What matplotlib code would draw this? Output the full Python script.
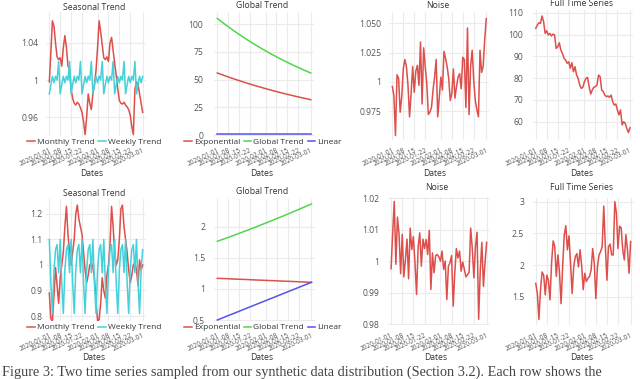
import matplotlib
matplotlib.use("Agg")
import matplotlib.pyplot as plt
import pandas as pd

plt.rcParams['font.family'] = ['Open Sans', 'DejaVu Sans']

# ---------------- data ----------------
start, end = '2020-01-01', '2020-03-01'
tick_dates = ['2020-01-01', '2020-01-08', '2020-01-15', '2020-01-22',
              '2020-02-01', '2020-02-08', '2020-02-15', '2020-02-22', '2020-03-01']

# Row 1
r1_monthly = [0.998, 1.030, 1.064, 1.058, 1.040, 1.025, 1.022, 1.024, 1.015, 1.035,
              1.048, 1.035, 1.015, 1.012, 0.990, 0.980, 0.975, 0.973, 0.976, 0.974,
              0.970, 0.965, 0.955, 0.941, 0.960, 0.985, 0.975, 0.968, 0.985, 0.995,
              1.010, 1.035, 1.064, 1.052, 1.038, 1.024, 1.022, 1.025, 1.020, 1.040,
              1.046, 1.032, 1.018, 1.005, 0.990, 0.978, 0.975, 0.974, 0.976, 0.973,
              0.971, 0.968, 0.962, 0.950, 0.941, 0.990, 0.998, 0.995, 0.985, 0.975,
              0.965]
r1_weekly = [0.985, 0.995, 1.004, 0.997, 1.004, 1.000, 1.020,
             0.985, 0.995, 1.004, 0.997, 1.004, 1.000, 1.020,
             0.985, 0.995, 1.004, 0.997, 1.004, 1.000, 1.020,
             0.985, 0.995, 1.004, 0.997, 1.004, 1.000, 1.020,
             0.985, 0.995, 1.004, 0.997, 1.004, 1.000, 1.020,
             0.985, 0.995, 1.004, 0.997, 1.004, 1.000, 1.020,
             0.985, 0.995, 1.004, 0.997, 1.004, 1.000, 1.020,
             0.985, 0.995, 1.004, 0.997, 1.004, 1.000, 1.020,
             0.985, 0.995, 1.004, 0.997, 1.004]
r1_exponential = [56.00, 53.45, 51.01, 48.69, 46.47, 44.36, 42.34, 40.41, 38.57,
                  36.81, 35.14, 33.54, 32.01]
r1_global = [105.0, 99.64, 94.56, 89.73, 85.15, 80.81, 76.68, 72.77, 69.06,
             65.53, 62.19, 59.01, 56.00]
r1_linear = [1.0, 1.0, 1.0, 1.0, 1.0, 1.0, 1.0, 1.0, 1.0, 1.0, 1.0, 1.0, 1.0]
r1_noise = [0.996, 0.988, 0.954, 1.006, 1.003, 0.974, 0.987, 1.011, 1.019, 1.013,
            0.997, 0.970, 0.990, 1.013, 0.991, 1.009, 1.014, 0.997, 1.034, 0.981,
            1.029, 1.013, 0.999, 0.972, 0.974, 0.978, 0.993, 1.004, 1.019, 0.970,
            0.987, 1.004, 0.993, 1.026, 1.020, 1.013, 1.003, 0.984, 0.990, 1.011,
            0.986, 0.996, 1.004, 1.007, 0.994, 1.021, 1.019, 0.978, 1.046, 0.972,
            1.013, 1.027, 1.001, 0.984, 0.976, 0.970, 1.027, 1.008, 1.013, 1.036,
            1.054]
r1_full = [102.8, 104.3, 105.4, 105.1, 108.5, 105.9, 100.5, 101.7, 99.8, 100.5,
           99.3, 100.2, 99.8, 93.6, 94.4, 96.2, 92.9, 91.3, 89.1, 88.3,
           86.8, 87.5, 84.5, 87.1, 82.9, 85.2, 81.4, 79.9, 76.8, 75.3,
           75.8, 78.3, 79.9, 80.3, 76.1, 72.7, 74.5, 75.8, 76.1, 76.8,
           81.4, 80.6, 74.5, 73.8, 72.2, 71.5, 71.8, 71.2, 72.2, 69.2,
           67.6, 68.1, 65.4, 63.1, 65.4, 58.5, 60.0, 59.2, 56.9, 55.0,
           57.2]

# Row 2
r2_monthly = [0.89, 0.79, 0.78, 0.88, 0.99, 0.92, 0.85, 0.95, 1.00, 1.05,
              1.15, 1.23, 1.12, 1.05, 1.00, 1.05, 1.10, 1.20, 1.235, 1.18,
              1.15, 1.12, 1.05, 0.98, 0.93, 0.96, 1.00, 1.01, 0.99, 0.95,
              0.86, 0.782, 0.785, 0.85, 0.95, 0.90, 0.87, 0.96, 1.00, 1.08,
              1.23, 1.15, 1.05, 1.00, 1.02, 1.10, 1.22, 1.235, 1.15, 1.10,
              1.05, 0.98, 0.93, 0.96, 1.00, 1.01, 0.98, 0.92, 1.02, 0.98,
              1.00]
r2_weekly = [1.10, 0.93, 0.81, 0.98, 1.06, 1.08, 0.97,
             1.10, 0.93, 0.81, 0.98, 1.06, 1.08, 0.97,
             1.10, 0.93, 0.81, 0.98, 1.06, 1.08, 0.97,
             1.10, 0.93, 0.81, 0.98, 1.06, 1.08, 0.97,
             1.10, 0.93, 0.81, 0.98, 1.06, 1.08, 0.97,
             1.10, 0.93, 0.81, 0.98, 1.06, 1.08, 0.97,
             1.10, 0.93, 0.81, 0.98, 1.06, 1.08, 0.97,
             1.10, 0.93, 0.81, 0.98, 1.06, 1.08, 0.97,
             1.10, 0.93, 0.81, 0.98, 1.06]
r2_exponential = [1.170, 1.165, 1.159, 1.154, 1.149, 1.143, 1.138, 1.133, 1.127,
                  1.122, 1.117, 1.111, 1.106]
r2_global = [1.765, 1.810, 1.856, 1.903, 1.951, 2.000, 2.050, 2.100, 2.152,
             2.204, 2.257, 2.311, 2.365]
r2_linear = [0.500, 0.551, 0.601, 0.652, 0.702, 0.753, 0.803, 0.854, 0.904,
             0.955, 1.005, 1.056, 1.106]
r2_noise = [0.9976, 1.0090, 1.0190, 0.9990, 1.0140, 1.0085, 0.9960, 1.0085, 0.9950, 1.0005,
            1.0070, 0.9944, 1.0105, 1.0037, 1.0078, 0.9995, 0.9894, 1.0047, 1.0090, 0.9984,
            1.0070, 1.0040, 1.0069, 1.0021, 1.0098, 0.9910, 1.0026, 0.9963, 1.0018, 1.0021,
            1.0014, 1.0000, 1.0032, 0.9974, 1.0000, 0.9878, 0.9984, 0.9995, 1.0018, 0.9857,
            0.9963, 1.0040, 1.0010, 1.0032, 0.9968, 0.9997, 0.9974, 0.9950, 0.9957, 0.9965,
            1.0105, 1.0040, 0.9947, 1.0047, 1.0092, 0.9815, 0.9968, 1.0060, 0.9920, 0.9995,
            1.0060]
r2_full = [1.71, 1.55, 1.14, 1.61, 1.89, 1.84, 1.53, 1.84, 1.76, 1.45,
           2.03, 2.38, 2.29, 1.82, 2.16, 1.89, 1.39, 1.97, 2.47, 2.62,
           2.24, 2.46, 2.03, 1.55, 1.97, 2.13, 2.18, 1.97, 2.24, 2.00,
           1.61, 1.87, 1.74, 1.79, 1.82, 1.92, 2.26, 2.03, 1.47, 1.97,
           2.16, 2.21, 2.29, 2.93, 2.29, 1.76, 2.29, 2.33, 2.16, 2.16,
           3.00, 2.82, 2.26, 2.61, 2.59, 2.24, 2.08, 2.48, 2.24, 1.87,
           2.37]

seasonal_labels = ['Monthly Trend', 'Weekly Trend']
global_labels = ['Exponential', 'Global Trend', 'Linear']

r1_seasonal_ticks = [0.96, 1.0, 1.04]
r1_seasonal_ticklabels = ['0.96', '1', '1.04']
r1_global_ticks = [0, 25, 50, 75, 100]
r1_global_ticklabels = ['0', '25', '50', '75', '100']
r1_noise_ticks = [0.975, 1.0, 1.025, 1.05]
r1_noise_ticklabels = ['0.975', '1', '1.025', '1.050']
r1_full_ticks = [60, 70, 80, 90, 100, 110]
r1_full_ticklabels = ['60', '70', '80', '90', '100', '110']
r2_seasonal_ticks = [0.8, 0.9, 1.0, 1.1, 1.2]
r2_seasonal_ticklabels = ['0.8', '0.9', '1', '1.1', '1.2']
r2_global_ticks = [0.5, 1.0, 1.5, 2.0]
r2_global_ticklabels = ['0.5', '1', '1.5', '2']
r2_noise_ticks = [0.98, 0.99, 1.0, 1.01, 1.02]
r2_noise_ticklabels = ['0.98', '0.99', '1', '1.01', '1.02']
r2_full_ticks = [1.5, 2.0, 2.5, 3.0]
r2_full_ticklabels = ['1.5', '2', '2.5', '3']

caption = ('Figure 3: Two time series sampled from our synthetic data distribution '
           '(Section 3.2). Each row shows the')

# ---------------- styling ----------------
RED = '#dc4f4b'
CYAN = '#44d1da'
GREEN = '#4fd64a'
BLUE = '#5252ee'
GRID = '#ebebeb'
TXT = '#333333'
TICK = '#555555'

W, H = 640, 379
fig = plt.figure(figsize=(6.4, 3.79), dpi=100)

daily = pd.date_range(start, end, freq='D')
every5 = pd.date_range(start, end, freq='5D')
ticks = pd.to_datetime(tick_dates)
xmin = pd.Timestamp('2019-12-30')
xmax = pd.Timestamp('2020-03-03')


def make_ax(left, top, right, bottom):
    ax = fig.add_axes([left / W, 1 - bottom / H, (right - left) / W, (bottom - top) / H])
    for s in ax.spines.values():
        s.set_visible(False)
    ax.set_facecolor('white')
    ax.grid(True, color=GRID, lw=0.8)
    ax.set_axisbelow(True)
    ax.tick_params(length=0)
    ax.set_xlim(xmin, xmax)
    ax.set_xticks(ticks)
    ax.set_xticklabels(tick_dates, rotation=25, ha='right', va='top',
                       rotation_mode='anchor', fontsize=4.7, color=TICK)
    return ax


def finish(ax, ylim, yt, ytl, ypad, xpad):
    ax.set_ylim(*ylim)
    ax.set_yticks(yt)
    ax.set_yticklabels(ytl, fontsize=6.2, color=TICK)
    ax.tick_params(axis='y', pad=ypad)
    ax.tick_params(axis='x', pad=xpad)


def title(x, y, s):
    fig.text(x / W, 1 - y / H, s, ha='center', va='center', fontsize=6.2, color=TXT)


def xlabel(x, y):
    fig.text(x / W, 1 - y / H, 'Dates', ha='center', va='center', fontsize=6.2, color=TXT)


def legend(ax, cx, cy, ncol):
    ax.legend(loc='center', bbox_to_anchor=(cx / W, 1 - cy / H), bbox_transform=fig.transFigure,
              ncol=ncol, frameon=False, fontsize=6.0, handlelength=0.9, handletextpad=0.25,
              columnspacing=0.45, borderpad=0, labelcolor=TXT)


# ---- Row 1 ----
ax = make_ax(46.2, 12, 145.8, 136)
ax.plot(daily, r1_monthly, color=RED, lw=1.1, label=seasonal_labels[0])
ax.plot(daily, r1_weekly, color=CYAN, lw=1.1, label=seasonal_labels[1])
finish(ax, (0.9395, 1.0735), r1_seasonal_ticks, r1_seasonal_ticklabels, 5.9, 7.9)
legend(ax, 94, 142.5, 2)
title(94, 7, 'Seasonal Trend')
xlabel(92, 173)

ax = make_ax(214.2, 12, 313.8, 136)
ax.plot(every5, r1_exponential, color=RED, lw=1.1, label=global_labels[0])
ax.plot(every5, r1_global, color=GREEN, lw=1.1, label=global_labels[1])
ax.plot(every5, r1_linear, color=BLUE, lw=1.1, label=global_labels[2])
finish(ax, (-0.63, 110.8), r1_global_ticks, r1_global_ticklabels, 8, 7.9)
legend(ax, 263, 142.5, 3)
title(262, 6, 'Global Trend')
xlabel(262, 173)

ax = make_ax(389.2, 12, 489.4, 140)
ax.plot(daily, r1_noise, color=RED, lw=1.1)
finish(ax, (0.9502, 1.0597), r1_noise_ticks, r1_noise_ticklabels, 5.8, 5)
title(438, 5, 'Noise')
xlabel(435, 173)

ax = make_ax(532.6, 10, 633.1, 140)
ax.plot(daily, r1_full, color=RED, lw=1.1)
finish(ax, (51.6, 111.24), r1_full_ticks, r1_full_ticklabels, 7, 5)
title(582, 3, 'Full Time Series')
xlabel(582, 173)

# ---- Row 2 ----
ax = make_ax(46.2, 199, 145.8, 321)
ax.plot(daily, r2_monthly, color=RED, lw=1.1, label=seasonal_labels[0])
ax.plot(daily, r2_weekly, color=CYAN, lw=1.1, label=seasonal_labels[1])
finish(ax, (0.7804, 1.2588), r2_seasonal_ticks, r2_seasonal_ticklabels, 2.4, 7.9)
legend(ax, 94, 327.5, 2)
title(94, 193, 'Seasonal Trend')
xlabel(94, 358)

ax = make_ax(214.2, 199, 314.6, 321)
ax.plot(every5, r2_exponential, color=RED, lw=1.1, label=global_labels[0])
ax.plot(every5, r2_global, color=GREEN, lw=1.1, label=global_labels[1])
ax.plot(every5, r2_linear, color=BLUE, lw=1.1, label=global_labels[2])
finish(ax, (0.484, 2.445), r2_global_ticks, r2_global_ticklabels, 6.5, 7.9)
legend(ax, 263, 327.5, 3)
title(262, 191, 'Global Trend')
xlabel(262, 358)

ax = make_ax(387.9, 197, 489.8, 325)
ax.plot(daily, r2_noise, color=RED, lw=1.1)
finish(ax, (0.9797, 1.0204), r2_noise_ticks, r2_noise_ticklabels, 6, 5)
title(437, 188, 'Noise')
xlabel(436, 358)

ax = make_ax(532.6, 198, 633.8, 325)
ax.plot(daily, r2_full, color=RED, lw=1.1)
finish(ax, (1.053, 3.058), r2_full_ticks, r2_full_ticklabels, 6, 5)
title(582, 188, 'Full Time Series')
xlabel(582, 358)

# caption line at the bottom edge
fig.text(2 / W, 1 - 376 / H, caption, ha='left', va='baseline', fontsize=10.3,
         color='#444444', family=['Liberation Serif', 'DejaVu Serif'])

fig.savefig('out.png', dpi=100, facecolor='white')
